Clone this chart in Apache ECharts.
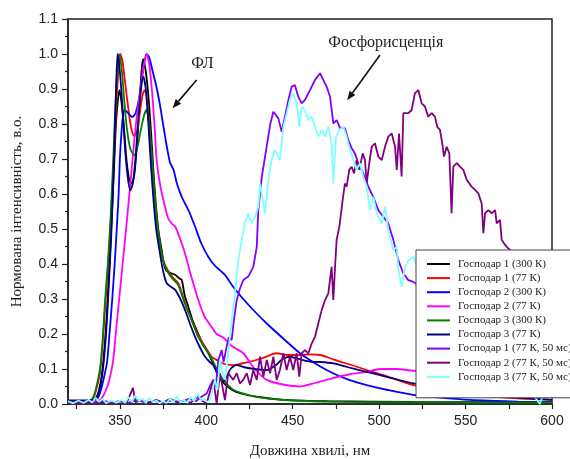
<!DOCTYPE html>
<html>
<head>
<meta charset="utf-8">
<script src="https://cdn.jsdelivr.net/npm/echarts@6/dist/echarts.min.js"></script>
<style>
  html, body { margin: 0; padding: 0; background: #fff; }
  #chart { width: 570px; height: 459px; }
</style>
</head>
<body>
<div id="chart"></div>
<script>
// Spectra: [wavelength (nm), normalized intensity]
const seriesNames = [
  'Господар 1 (300 К)', 'Господар 1 (77 К)', 'Господар 2 (300 К)',
  'Господар 2 (77 К)', 'Господар 3 (300 К)', 'Господар 3 (77 К)',
  'Господар 1 (77 К, 50 мс)', 'Господар 2 (77 К, 50 мс)', 'Господар 3 (77 К, 50 мс)'
];
const seriesColors = ['#000000', '#ff0000', '#0000ff', '#ff00ff', '#008000', '#000080', '#8000ff', '#800080', '#80ffff'];

const host1_300K = [[320,0.008],[330,0.008],[334,0.01],[336,0.015],[338,0.04],[340,0.1],[342,0.22],[343.5,0.35],[345,0.5],[346.5,0.66],[348,0.82],[349.8,0.897],[351,0.86],[352.5,0.78],[354,0.69],[355.5,0.64],[357,0.63],[358.5,0.66],[360,0.75],[361.5,0.86],[362.5,0.95],[363.5,0.985],[365,0.95],[366.5,0.88],[368,0.78],[369.5,0.66],[371,0.56],[372.5,0.49],[374.2,0.44],[375.5,0.40],[377,0.38],[379,0.375],[382,0.369],[384,0.36],[385.8,0.354],[387.5,0.31],[389.6,0.278],[392,0.24],[395.4,0.20],[398,0.17],[401.2,0.145],[404,0.115],[407,0.085],[410,0.06],[415,0.04],[420,0.03],[430,0.02],[445,0.012],[470,0.008],[520,0.006],[600,0.005]];

const host1_77K = [[320,0.008],[330,0.008],[334,0.012],[336,0.035],[338.5,0.09],[340,0.17],[341.5,0.28],[343,0.38],[344.5,0.5],[346.5,0.7],[348,0.86],[350.3,1.0],[351.5,0.98],[353,0.92],[355,0.84],[356.5,0.79],[358.2,0.766],[360,0.78],[361.5,0.83],[363,0.88],[364.3,0.897],[365.5,0.88],[367,0.8],[368.5,0.7],[370,0.6],[371.5,0.52],[373,0.46],[375.1,0.41],[378,0.38],[381,0.36],[383.8,0.345],[387,0.3],[389,0.27],[391.5,0.24],[395,0.2],[399.3,0.164],[403.1,0.135],[406,0.126],[410,0.115],[415.5,0.111],[420,0.115],[425.3,0.121],[432,0.13],[440.7,0.145],[447,0.14],[454.2,0.14],[460,0.142],[465.8,0.14],[472,0.13],[477.4,0.121],[485,0.11],[492.8,0.097],[505,0.078],[519.8,0.054],[540,0.035],[560,0.024],[580,0.016],[600,0.012]];

const host2_300K = [[320,0.008],[334,0.01],[337,0.015],[339,0.04],[341,0.08],[342.6,0.12],[344,0.2],[345.6,0.3],[347,0.4],[348.2,0.5],[349.3,0.6],[350,0.7],[351,0.78],[352,0.83],[353,0.84],[355,0.83],[357.2,0.82],[359,0.83],[361,0.87],[363,0.94],[365.5,1.0],[367,0.99],[369,0.95],[371,0.91],[373,0.86],[375,0.8],[377,0.74],[379,0.69],[381,0.67],[383,0.63],[385.8,0.592],[390,0.55],[393.5,0.507],[397,0.46],[401.2,0.42],[405,0.395],[410.8,0.369],[415.5,0.335],[425,0.28],[435,0.23],[445,0.185],[454.2,0.145],[465,0.11],[473.3,0.088],[483,0.068],[492.8,0.054],[505,0.04],[519.6,0.026],[540,0.016],[560,0.01],[580,0.007],[600,0.005]];

const host2_77K = [[320,0.006],[334,0.006],[338,0.01],[340,0.02],[342,0.04],[344,0.07],[346,0.12],[348,0.22],[350,0.32],[352,0.42],[354,0.52],[355.5,0.6],[357,0.68],[358.5,0.76],[360,0.83],[362,0.9],[364,0.97],[365.5,1.0],[367,0.97],[368.5,0.9],[370,0.8],[371.3,0.697],[373.5,0.62],[376.1,0.564],[378,0.53],[380,0.516],[382,0.507],[385,0.47],[387.7,0.43],[391,0.37],[395.4,0.297],[399,0.25],[403.1,0.22],[406,0.2],[409.8,0.19],[415,0.165],[421.4,0.145],[428,0.1],[435,0.069],[445,0.055],[454,0.05],[463,0.06],[473.3,0.074],[483,0.085],[492.8,0.092],[500.5,0.1],[510,0.1],[519.6,0.095],[540,0.09],[560,0.085],[580,0.08],[600,0.075]];

const host3_300K = [[320,0.008],[330,0.008],[334,0.015],[336,0.04],[338.5,0.1],[340,0.18],[341.5,0.3],[343,0.4],[344.5,0.52],[346.2,0.7],[347.5,0.86],[349.5,1.0],[351,0.96],[352.5,0.87],[354,0.79],[356,0.73],[358.4,0.711],[360,0.73],[362,0.78],[364,0.825],[365.4,0.84],[366.5,0.82],[368,0.74],[369.5,0.64],[371,0.55],[372.5,0.48],[375.1,0.41],[378,0.375],[381,0.355],[383.8,0.34],[387,0.295],[391.5,0.24],[395,0.195],[399.3,0.16],[403.1,0.13],[407,0.09],[411,0.062],[416,0.04],[425,0.025],[435,0.016],[450,0.01],[480,0.006],[600,0.004]];

const host3_77K = [[320,0.01],[332,0.01],[336,0.015],[338,0.035],[340,0.09],[342,0.2],[343.5,0.33],[345,0.48],[346.5,0.68],[347.8,0.9],[348.7,1.0],[350,0.95],[351.5,0.85],[353,0.73],[354.5,0.65],[356,0.61],[357.5,0.63],[359,0.7],[360.5,0.8],[362,0.89],[363.6,0.935],[365,0.9],[366.5,0.8],[368,0.68],[369.5,0.58],[371,0.5],[373.2,0.43],[375,0.38],[377.1,0.345],[379.5,0.335],[382,0.326],[385,0.3],[387.7,0.269],[390.5,0.23],[393.5,0.192],[396.5,0.16],[399.3,0.135],[402,0.12],[404.1,0.111],[406,0.09],[408,0.07],[409.8,0.064],[412,0.08],[414,0.1],[417.6,0.111],[422,0.105],[428,0.1],[435,0.097],[440,0.11],[444,0.128],[448.4,0.135],[454,0.128],[460,0.121],[466,0.12],[473.5,0.116],[482,0.105],[492.8,0.092],[505,0.077],[519.8,0.059],[540,0.04],[560,0.027],[580,0.018],[600,0.012]];

const host1_delayed = [[320,0.005],[325,0.003],[330,0.006],[335,0.002],[340,0.01],[345,0.004],[350,0.008],[355,0.003],[360,0.012],[365,0.004],[370,0.009],[375,0.003],[380,0.01],[385,0.005],[390,0.015],[394,0.008],[397,0.02],[400.2,0.03],[402,0.05],[404.1,0.069],[405.5,0.05],[407,0.126],[408.9,0.154],[410,0.12],[411.8,0.164],[413,0.19],[414.7,0.183],[416,0.24],[417.6,0.297],[419.5,0.33],[421.4,0.354],[424.3,0.364],[427.2,0.392],[429.2,0.449],[430.1,0.554],[432.1,0.649],[434,0.707],[436.9,0.797],[438.8,0.835],[441.7,0.816],[443.6,0.778],[445.5,0.821],[447.5,0.869],[449.4,0.907],[451.3,0.911],[453.2,0.878],[455.2,0.859],[457.1,0.869],[460,0.897],[462.9,0.926],[465.8,0.945],[467.7,0.926],[469.6,0.907],[471.6,0.878],[473.5,0.802],[475.4,0.811],[477.4,0.788],[480.2,0.788],[482.2,0.754],[484.1,0.731],[486,0.716],[487.9,0.688],[490.8,0.659],[493.7,0.621],[496.6,0.592],[499.5,0.554],[502.4,0.535],[505.3,0.516],[508.2,0.469],[511.1,0.411],[514,0.373],[516.9,0.354],[519.8,0.349],[525,0.33],[530,0.3],[540,0.25],[550,0.2],[560,0.15],[570,0.1],[580,0.07],[590,0.05],[600,0.04]];

const host2_delayed = [[320,0.004],[325,0.002],[330,0.005],[335,0.003],[340,0.006],[345,0.002],[350,0.008],[354,0.004],[357.6,0.046],[359,0.005],[363,0.01],[367,0.003],[371,0.012],[375,0.004],[379,0.015],[383,0.005],[387,0.01],[391,0.004],[395,0.02],[398,0.008],[400.2,0.002],[404.1,0.069],[406,0.0],[407.9,0.088],[410.8,0.011],[412.7,0.088],[415.6,0.069],[417.6,0.088],[419.5,0.059],[421.4,0.069],[423.4,0.088],[425.3,0.054],[427.2,0.097],[429.2,0.069],[431.1,0.135],[433,0.078],[435,0.126],[436.9,0.088],[438.8,0.135],[440.7,0.069],[442.6,0.097],[444.6,0.145],[446.5,0.097],[448.4,0.135],[450.3,0.097],[452.3,0.145],[453.8,0.078],[455.2,0.145],[457.1,0.154],[459,0.145],[461,0.173],[462.9,0.192],[464.8,0.23],[466.8,0.269],[468.7,0.297],[470.6,0.316],[472.5,0.392],[473.5,0.297],[474.5,0.392],[475.4,0.469],[477,0.507],[478.9,0.583],[480.2,0.63],[481.2,0.621],[482.7,0.669],[484.1,0.678],[485.5,0.659],[487,0.697],[488.5,0.669],[490.5,0.716],[491.8,0.697],[492.8,0.63],[494.3,0.688],[495.7,0.735],[497.6,0.745],[499.5,0.707],[501.5,0.697],[503.4,0.735],[505.3,0.764],[507.3,0.773],[509.2,0.735],[510.2,0.669],[511.5,0.773],[513,0.65],[514,0.831],[516.9,0.831],[518.8,0.84],[520.7,0.888],[522.7,0.897],[524.6,0.859],[526.5,0.85],[528.4,0.821],[530.4,0.831],[532.3,0.821],[533.6,0.792],[535.2,0.783],[536.8,0.735],[537.5,0.707],[539.1,0.735],[540.6,0.716],[541.9,0.545],[542.9,0.678],[544.9,0.688],[546.8,0.678],[548.7,0.669],[550.7,0.64],[553.5,0.621],[555.5,0.612],[557.4,0.602],[559.3,0.573],[560.3,0.488],[561.3,0.545],[563.2,0.554],[565.1,0.545],[567.1,0.554],[568,0.516],[569.9,0.526],[570.9,0.469],[572.2,0.459],[573.8,0.449],[575.7,0.44],[580,0.38],[585,0.32],[590,0.27],[595,0.22],[600,0.18]];

const host3_delayed = [[320,0.008],[323,0.002],[326,0.01],[329,0.003],[332,0.012],[334,0.004],[336,0.018],[338,0.006],[340,0.015],[342,0.002],[345,0.01],[348,0.004],[351,0.012],[353,0.003],[355,0.02],[357,0.006],[359,0.025],[361,0.008],[363,0.015],[365,0.003],[367,0.018],[369,0.006],[371,0.01],[373,0.002],[375,0.008],[377,0.003],[379,0.015],[381,0.005],[383,0.022],[385,0.004],[387,0.012],[389,0.003],[391,0.02],[393,0.008],[395,0.03],[397,0.01],[399,0.015],[400.5,0.005],[402.1,0.011],[405,0.069],[406.5,0.04],[407.9,0.126],[409.5,0.09],[410.8,0.069],[412.7,0.145],[414.7,0.24],[416.6,0.316],[418.5,0.411],[420.5,0.469],[422.4,0.516],[424.3,0.545],[426.3,0.516],[428.2,0.535],[430.1,0.564],[431.1,0.63],[434,0.545],[435.9,0.64],[437.8,0.697],[439.7,0.726],[442.6,0.697],[444.6,0.792],[446.5,0.83],[448.4,0.869],[450.3,0.888],[452.3,0.859],[453.8,0.792],[455.2,0.85],[457.1,0.84],[459,0.811],[461,0.821],[462.9,0.792],[464.8,0.764],[466.8,0.783],[468.7,0.764],[470.6,0.792],[472.5,0.745],[473.5,0.63],[475,0.764],[477,0.783],[479.3,0.792],[481.2,0.764],[483.1,0.726],[485.1,0.697],[487,0.669],[488.9,0.688],[490.8,0.65],[492.8,0.621],[494.7,0.554],[496.6,0.592],[498.6,0.545],[501.5,0.516],[503.4,0.564],[505.3,0.497],[508.2,0.44],[510.2,0.449],[511.1,0.383],[513,0.335],[515,0.392],[516.9,0.411],[519.8,0.421],[525,0.35],[530,0.3],[540,0.25],[550,0.2],[560,0.15],[570,0.1],[580,0.07],[590,0.02],[593,0.0],[595,0.03],[600,0.02]];

const seriesData = [host1_300K, host1_77K, host2_300K, host2_77K, host3_300K, host3_77K, host1_delayed, host2_delayed, host3_delayed];

// Axis ticks
const xMajorLabels = [350, 400, 450, 500, 550, 600];
const xTicks = [325, 350, 375, 400, 425, 450, 475, 500, 525, 550, 575, 600];

// Annotation texts and arrows, given in data coordinates
const annotations = [
  { text: 'ФЛ', at: [391.3, 0.972], arrowFrom: [394.4, 0.926], arrowTo: [380.5, 0.845] },
  { text: 'Фосфорисценція', at: [470.6, 1.032], arrowFrom: [500.5, 0.997], arrowTo: [481.5, 0.868] }
];

const serif = '"Liberation Serif", "Times New Roman", serif';
const sans = '"Liberation Sans", Arial, sans-serif';

const chart = echarts.init(document.getElementById('chart'), null, { renderer: 'canvas' });

const series = seriesData.map((d, i) => ({
  name: seriesNames[i],
  type: 'line',
  data: d,
  symbol: 'none',
  smooth: i < 6 ? 0.25 : false,
  lineStyle: { width: 1.8, color: seriesColors[i] },
  itemStyle: { color: seriesColors[i] },
  emphasis: { disabled: true },
  animation: false
}));

chart.setOption({
  animation: false,
  backgroundColor: '#fff',
  grid: { left: 68, right: 18, top: 19, bottom: 55, outerBoundsMode: 'none', containLabel: false, show: true, borderColor: '#222', borderWidth: 1.5, backgroundColor: 'transparent' },
  xAxis: {
    type: 'value', min: 320, max: 600,
    name: 'Довжина хвилі, нм', nameLocation: 'middle', nameGap: 40,
    nameTextStyle: { fontFamily: serif, fontSize: 15, color: '#222' },
    axisLine: { show: true, lineStyle: { color: '#222', width: 1.5 } },
    axisTick: { show: true, inside: false, length: 5, customValues: xTicks, lineStyle: { color: '#222', width: 1.2 } },
    axisLabel: { customValues: xMajorLabels, margin: 10, fontFamily: sans, fontSize: 14, color: '#222' },
    splitLine: { show: false }
  },
  yAxis: {
    type: 'value', min: 0, max: 1.1, interval: 0.1,
    name: 'Нормована інтенсивність, в.о.', nameLocation: 'middle', nameGap: 43,
    nameTextStyle: { fontFamily: serif, fontSize: 15, color: '#222' },
    axisLine: { show: true, lineStyle: { color: '#222', width: 1.5 } },
    axisTick: { show: true, inside: false, length: 6, lineStyle: { color: '#222', width: 1.2 } },
    minorTick: { show: true, splitNumber: 2, length: 3, lineStyle: { color: '#222', width: 1.2 } },
    axisLabel: { margin: 10, fontFamily: sans, fontSize: 14, color: '#222', formatter: v => v.toFixed(1) },
    splitLine: { show: false }
  },
  legend: {
    orient: 'vertical', left: 416, top: 250,
    backgroundColor: '#fff', borderColor: '#444', borderWidth: 1,
    padding: [7, 22, 14, 11],
    itemWidth: 23, itemHeight: 14, itemGap: 0.1,
    selectedMode: false,
    data: seriesNames.map((n, i) => ({ name: n, icon: 'path://M0,6 L23,6 L23,8 L0,8 Z', itemStyle: { color: seriesColors[i] } })),
    textStyle: { fontFamily: serif, fontSize: 11, lineHeight: 14, color: '#222', padding: [0, 0, 0, 3] }
  },
  series
});

// Annotation labels and arrows placed through the axis scales
function buildAnnotations() {
  const g = [];
  annotations.forEach(a => {
    const p = chart.convertToPixel({ gridIndex: 0 }, a.at);
    const f = chart.convertToPixel({ gridIndex: 0 }, a.arrowFrom);
    const t = chart.convertToPixel({ gridIndex: 0 }, a.arrowTo);
    g.push({ type: 'text', x: p[0], y: p[1], style: { text: a.text, font: '16px ' + serif, fill: '#222', textVerticalAlign: 'middle' }, z: 100 });
    const dx = t[0] - f[0], dy = t[1] - f[1];
    const len = Math.sqrt(dx * dx + dy * dy);
    const ux = dx / len, uy = dy / len;
    const head = 9, half = 3.5;
    const bx = t[0] - ux * head, by = t[1] - uy * head;
    g.push({ type: 'line', shape: { x1: f[0], y1: f[1], x2: bx, y2: by }, style: { stroke: '#111', lineWidth: 1.6 }, z: 100 });
    g.push({ type: 'polygon', shape: { points: [[t[0], t[1]], [bx - uy * half, by + ux * half], [bx + uy * half, by - ux * half]] }, style: { fill: '#111' }, z: 100 });
  });
  chart.setOption({ graphic: g });
}
buildAnnotations();
</script>
</body>
</html>
